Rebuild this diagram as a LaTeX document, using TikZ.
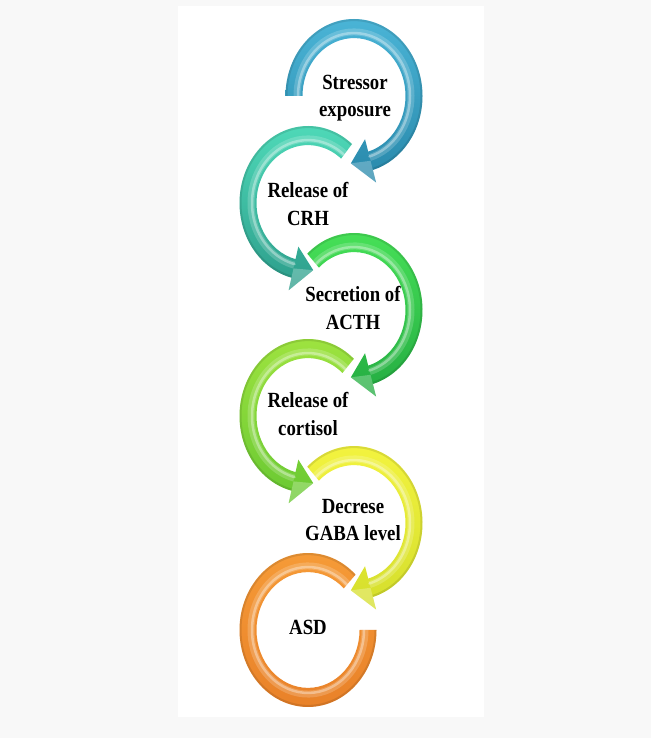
\documentclass[tikz,border=0pt]{standalone}
\usepackage{fontspec}
\setmainfont{Liberation Serif}
\usetikzlibrary{calc}
\definecolor{bgout}{RGB}{248,248,248}
\definecolor{blueL}{RGB}{74,180,214}
\definecolor{blueD}{RGB}{40,136,170}
\definecolor{tealL}{RGB}{80,220,186}
\definecolor{tealD}{RGB}{44,156,138}
\definecolor{grnL}{RGB}{72,226,88}
\definecolor{grnD}{RGB}{36,172,66}
\definecolor{lgrL}{RGB}{160,228,64}
\definecolor{lgrD}{RGB}{104,200,50}
\definecolor{yelL}{RGB}{244,244,64}
\definecolor{yelD}{RGB}{212,222,44}
\definecolor{orgL}{RGB}{246,156,56}
\definecolor{orgD}{RGB}{232,128,40}
\tikzset{
  lbl/.style={font=\fontsize{18.8}{24}\selectfont\bfseries, align=center, yscale=1.15, inner sep=0pt, text=black},
  hlsoft/.style={white, opacity=0.18, line width=7pt},
  hl/.style={white, opacity=0.35, line width=2.5pt, line cap=round},
  rim/.style={black, opacity=0.10, line width=2pt},
}
% #1 centre, #2 tail angle, #3 shaft end angle, #4 tip angle, #5 light colour, #6 dark colour
\newcommand\ringarw[6]{%
  \begin{scope}[shift={(#1)}, yscale=1.124]
    \shade[top color=#5, bottom color=#6]
      (#2:68.5) arc[start angle=#2, end angle=#3, radius=68.5]
      -- (#3:80) -- (#4:60) -- (#3:40) -- (#3:51.5)
      arc[start angle=#3, end angle=#2, radius=51.5] -- cycle;
    \draw[rim] (#2:67.5) arc[start angle=#2, end angle=#3, radius=67.5];
    \draw[hlsoft] (#2:57) arc[start angle=#2, end angle=#3, radius=57];
    \draw[hl] (#2:56) arc[start angle=#2, end angle=#3, radius=56];
    \fill[white, opacity=0.25] (#3:80) -- (#4:60) -- (#3:60) -- cycle;
  \end{scope}}
\newcommand\ringplain[5]{%
  \begin{scope}[shift={(#1)}, yscale=1.124]
    \shade[top color=#4, bottom color=#5]
      (#2:68.5) arc[start angle=#2, end angle=#3, radius=68.5]
      -- (#3:51.5) arc[start angle=#3, end angle=#2, radius=51.5] -- cycle;
    \draw[rim] (#2:67.5) arc[start angle=#2, end angle=#3, radius=67.5];
    \draw[hlsoft] (#2:57) arc[start angle=#2, end angle=#3, radius=57];
    \draw[hl] (#2:56) arc[start angle=#2, end angle=#3, radius=56];
  \end{scope}}
\begin{document}
\begin{tikzpicture}[x=1pt,y=1pt]
\useasboundingbox (0,0) rectangle (651,738);
\fill[bgout] (0,0) rectangle (651,738);
\fill[white] (178,21) rectangle (484,732);

\coordinate (c1) at (354,642);
\coordinate (c2) at (308,535);
\coordinate (c3) at (354,428);
\coordinate (c4) at (308,322);
\coordinate (c5) at (354,215);
\coordinate (c6) at (308,108);

\ringplain{c6}{46}{360}{orgL}{orgD}
\ringarw{c5}{133}{-74}{-93}{yelL}{yelD}
\ringarw{c4}{48}{256}{275}{lgrL}{lgrD}
\ringarw{c3}{133}{-74}{-93}{grnL}{grnD}
\ringarw{c2}{50}{256}{275}{tealL}{tealD}
\ringarw{c1}{180}{-74}{-93}{blueL}{blueD}

\node[lbl] (t1) at (355,640) {Stressor\\exposure};
\node[lbl] (t2) at (308,534) {Release of\\CRH};
\node[lbl] (t3) at (353,430) {Secretion of\\ACTH};
\node[lbl] (t4) at (308,324) {Release of\\cortisol};
\node[lbl] (t5) at (353,218) {Decrese\\GABA level};
\node[lbl] (t6) at (308,111) {ASD};
\end{tikzpicture}
\end{document}
